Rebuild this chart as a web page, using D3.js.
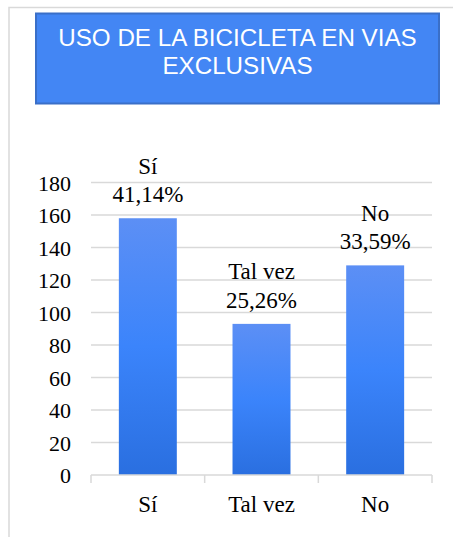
<!DOCTYPE html>
<html>
<head>
<meta charset="utf-8">
<script src="https://cdn.jsdelivr.net/npm/d3@7/dist/d3.min.js"></script>
<style>
  html, body { margin: 0; padding: 0; background: #fff; }
  svg { display: block; }
  .serif { font-family: 'Liberation Serif', 'Times New Roman', serif; }
  .sans { font-family: 'Liberation Sans', Arial, sans-serif; }
</style>
</head>
<body>
<svg id="chart" width="453" height="537"></svg>
<script>
// Survey answers: how many people would ride a bicycle on dedicated lanes
const categories = ["Sí", "Tal vez", "No"];
const counts = [158, 93, 129];
const percentLabels = ["41,14%", "25,26%", "33,59%"];
const yTicks = [0, 20, 40, 60, 80, 100, 120, 140, 160, 180];
const titleLines = ["USO DE LA BICICLETA EN VIAS", "EXCLUSIVAS"];

const svg = d3.select("#chart");

// Outer chart frame
svg.append("rect")
  .attr("x", 9).attr("y", 7.5)
  .attr("width", 470).attr("height", 560)
  .attr("fill", "#fff")
  .attr("stroke", "#d9d9d9").attr("stroke-width", 1.5);

// Vertical gradient used to fill the bars
const defs = svg.append("defs");
const grad = defs.append("linearGradient")
  .attr("id", "barFill")
  .attr("x1", 0).attr("y1", 0).attr("x2", 0).attr("y2", 1);
grad.append("stop").attr("offset", "0%").attr("stop-color", "#5c8ff5");
grad.append("stop").attr("offset", "50%").attr("stop-color", "#3b84fb");
grad.append("stop").attr("offset", "100%").attr("stop-color", "#2a6fe0");

// Title banner
svg.append("rect")
  .attr("x", 36).attr("y", 13.5)
  .attr("width", 403).attr("height", 90)
  .attr("fill", "#4386f4")
  .attr("stroke", "#3a6fc8").attr("stroke-width", 2);

svg.append("g")
  .selectAll("text")
  .data(titleLines)
  .join("text")
  .attr("class", "sans")
  .attr("x", 237.5)
  .attr("y", (d, i) => 46 + i * 27.5)
  .attr("text-anchor", "middle")
  .style("font-size", "24.2px")
  .attr("fill", "#ffffff")
  .text(d => d);

// Scales
const x = d3.scaleBand()
  .domain(categories)
  .range([91, 432])
  .paddingInner(0.49)
  .paddingOuter(0.245);

const y = d3.scaleLinear()
  .domain([0, 180])
  .range([475, 182.5]);

// Horizontal gridlines
svg.append("g")
  .selectAll("line")
  .data(yTicks.filter(t => t > 0))
  .join("line")
  .attr("x1", 91).attr("x2", 432)
  .attr("y1", d => y(d)).attr("y2", d => y(d))
  .attr("stroke", "#d9d9d9").attr("stroke-width", 1.5);

// Y axis labels
const yAxis = svg.append("g")
  .attr("transform", "translate(91,0)")
  .call(d3.axisLeft(y).tickValues(yTicks).tickSize(0).tickPadding(20));
yAxis.select(".domain").remove();
yAxis.attr("font-family", null).attr("font-size", null);
yAxis.selectAll("text")
  .attr("class", "serif")
  .style("font-size", "22px")
  .attr("fill", "#000")
  .attr("dy", "0.36em");

// Bars
svg.append("g")
  .selectAll("rect")
  .data(counts)
  .join("rect")
  .attr("x", (d, i) => x(categories[i]))
  .attr("width", x.bandwidth())
  .attr("y", d => y(d))
  .attr("height", d => y(0) - y(d))
  .attr("fill", "url(#barFill)");

// X axis: baseline with boundary ticks between categories
const boundaries = [91].concat(categories.map(c => x(c) + x.bandwidth() + x.step() * x.paddingInner() / 2));
boundaries[boundaries.length - 1] = 432;
const xAxisG = svg.append("g");
xAxisG.append("line")
  .attr("x1", 91).attr("x2", 432)
  .attr("y1", y(0)).attr("y2", y(0))
  .attr("stroke", "#d9d9d9").attr("stroke-width", 1.5);
xAxisG.selectAll("line.tick")
  .data(boundaries)
  .join("line")
  .attr("class", "tick")
  .attr("x1", d => d).attr("x2", d => d)
  .attr("y1", y(0)).attr("y2", y(0) + 8)
  .attr("stroke", "#d9d9d9").attr("stroke-width", 1.5);

xAxisG.selectAll("text")
  .data(categories)
  .join("text")
  .attr("class", "serif")
  .attr("x", d => x(d) + x.bandwidth() / 2)
  .attr("y", 512)
  .attr("text-anchor", "middle")
  .style("font-size", "23px")
  .attr("fill", "#000")
  .text(d => d);

// Data labels: category name above the percentage
const labels = svg.append("g")
  .selectAll("g")
  .data(counts)
  .join("g")
  .attr("transform", (d, i) => `translate(${x(categories[i]) + x.bandwidth() / 2},${y(d) - 16})`);
labels.append("text")
  .attr("class", "serif")
  .attr("y", -28.5)
  .attr("text-anchor", "middle")
  .style("font-size", "23px")
  .attr("fill", "#000")
  .text((d, i) => categories[i]);
labels.append("text")
  .attr("class", "serif")
  .attr("y", 0)
  .attr("text-anchor", "middle")
  .style("font-size", "23px")
  .attr("fill", "#000")
  .text((d, i) => percentLabels[i]);
</script>
</body>
</html>
